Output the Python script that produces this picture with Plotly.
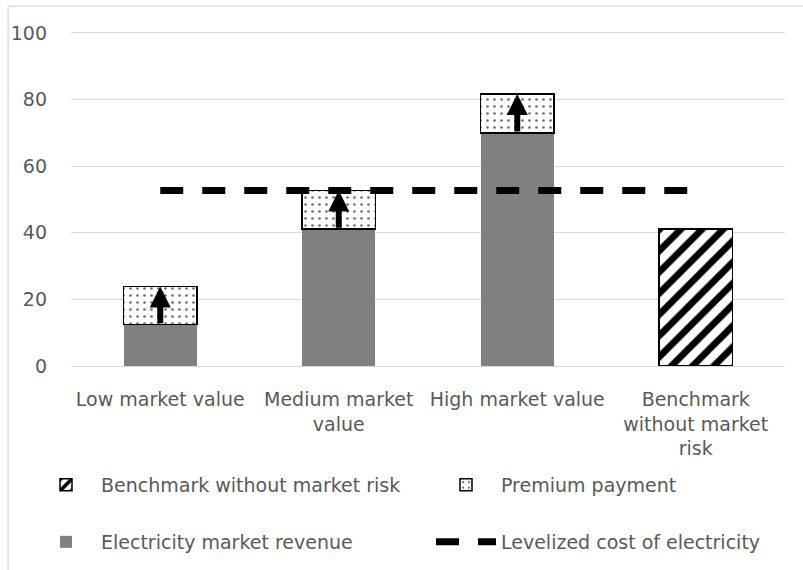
import plotly.graph_objects as go

# ---- data ----
categories = ["Low market value", "Medium market<br>value", "High market value",
              "Benchmark<br>without market<br>risk"]
market_revenue = [12.4, 41.1, 70.0, None]
premium_payment = [11.5, 11.6, 11.7, None]
benchmark = [None, None, None, 41.1]
lcoe_value = 52.7
lcoe = [lcoe_value] * len(categories)

y_ticks = [0, 20, 40, 60, 80, 100]

FONT = "DejaVu Sans"
FS = 19
TXT = "#595959"
GRID = "#d9d9d9"

fig = go.Figure()

# gray revenue bars
fig.add_trace(go.Bar(
    x=categories, y=market_revenue, name="Electricity market revenue",
    marker=dict(color="#808080", line=dict(width=0)),
    legend="legend3",
))

# dotted premium on top
fig.add_trace(go.Bar(
    x=categories, y=premium_payment, name="Premium payment",
    marker=dict(color="white", line=dict(color="black", width=1.5),
                pattern=dict(shape=".", fgcolor="#6f6f6f", bgcolor="white",
                             fgopacity=1, size=7, solidity=0.12)),
    legend="legend2",
))

# hatched benchmark
fig.add_trace(go.Bar(
    x=categories, y=benchmark, name="Benchmark without market risk",
    marker=dict(color="white", line=dict(color="black", width=1.5),
                pattern=dict(shape="/", fgcolor="black", bgcolor="white",
                             fgopacity=1, size=15, solidity=0.45)),
    legend="legend",
))

# levelized cost line
fig.add_trace(go.Scatter(
    x=categories, y=lcoe, mode="lines", name="Levelized cost of electricity",
    line=dict(color="black", width=7, dash="23px,19px"),
    legend="legend4",
))

# arrows inside the premium segments
for cat, rev, prem in zip(categories, market_revenue, premium_payment):
    if rev is None:
        continue
    fig.add_annotation(
        x=cat, y=rev + prem, ax=cat, ay=rev,
        xref="x", yref="y", axref="x", ayref="y",
        showarrow=True, arrowhead=2, arrowwidth=6, arrowsize=0.7,
        arrowcolor="black", standoff=0, text="",
    )

# light outer frame like the Excel chart area
fig.add_shape(type="rect", xref="paper", yref="paper",
              x0=-0.088, x1=1.05, y0=-0.8, y1=1.081,
              line=dict(color=GRID, width=1.3), layer="below")


def legend_at(px, py):
    # one legend entry placed at pixel position (left edge, row centre)
    return dict(
        xref="container", yref="container",
        x=px / 803, y=1 - py / 570, xanchor="left", yanchor="middle",
        orientation="h", itemwidth=60,
        font=dict(family=FONT, size=FS, color=TXT),
        bgcolor="rgba(0,0,0,0)",
    )


fig.update_layout(
    width=803, height=570,
    margin=dict(l=71, r=18, t=33, b=204, autoexpand=False),
    barmode="stack", bargap=0.59,
    plot_bgcolor="white", paper_bgcolor="white",
    font=dict(family=FONT, size=FS, color=TXT),
    showlegend=True,
    legend=legend_at(31, 485),
    legend2=legend_at(431, 485),
    legend3=legend_at(31, 542),
    legend4=legend_at(431, 542),
    xaxis=dict(showgrid=False, showline=True, mirror=True, linecolor=GRID,
               linewidth=1.3, ticks="", ticklabelstandoff=16,
               tickfont=dict(size=FS, color=TXT)),
    yaxis=dict(range=[0, 100], tickvals=y_ticks, showgrid=True, gridcolor=GRID,
               gridwidth=1.3, zeroline=False, showline=False, ticks="",
               ticklabelstandoff=23, tickfont=dict(size=FS, color=TXT)),
)

# drop the browser's default body margin so the figure sits at the page corner
fig.write_html("out.html", config={"displayModeBar": False},
               post_script="document.body.style.margin='0';")
